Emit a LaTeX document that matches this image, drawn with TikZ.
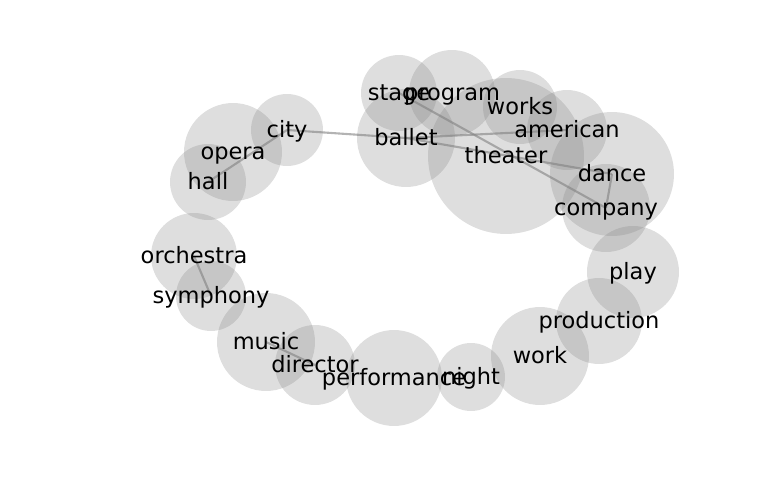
\documentclass[tikz,border=0pt]{standalone}
\usepackage{fontspec}
\setmainfont{DejaVu Sans}
\pgfdeclarelayer{bg}
\pgfsetlayers{bg,main}
\begin{document}
\begin{tikzpicture}[x=0.02cm,y=-0.02cm,
  bubble/.style={circle,fill=gray,fill opacity=0.26,inner sep=0pt,outer sep=0pt},
  word/.style={font=\fontsize{12.8}{15}\selectfont,inner sep=0pt,text height=0.76em,text depth=0.24em,yshift=-0.06cm},
  link/.style={gray,opacity=0.6,line width=1.2pt}]
\useasboundingbox (0,0) rectangle (768,500);
% bubbles
\foreach \n/\x/\y/\r in {stage/399/93/38,program/452/93/43,ballet/406/138/49,theater/506/156/78,
  works/520/107/37,american/567/130/40,dance/612/174/62,company/606/208/44,play/633/272/46,
  production/599/321/43,work/540/356/49,night/471/377/34,performance/394/378/48,director/315/365/40,
  music/266/342/49,symphony/211/296/35,orchestra/194/256/43,hall/208/182/38,opera/233/152/49,city/287/130/36}
  \node[bubble,minimum size=\r*0.04cm] (\n) at (\x,\y) {};
% links
\begin{pgfonlayer}{bg}
\draw[link] (stage.center) -- (company.center);
\draw[link] (ballet.center) -- (dance.center);
\draw[link] (city.center) -- (ballet.center);
\draw[link] (ballet.center) -- (american.center);
\draw[link] (dance.center) -- (company.center);
\draw[link] (city.center) -- (hall.center);
\draw[link] (orchestra.center) -- (symphony.center);
\draw[link] (music.center) -- (director.center);
\end{pgfonlayer}
% labels
\foreach \n in {stage,program,ballet,theater,works,american,dance,company,play,production,
  work,night,performance,director,music,symphony,orchestra,hall,opera,city}
  \node[word] at (\n.center) {\n};
\end{tikzpicture}
\end{document}
